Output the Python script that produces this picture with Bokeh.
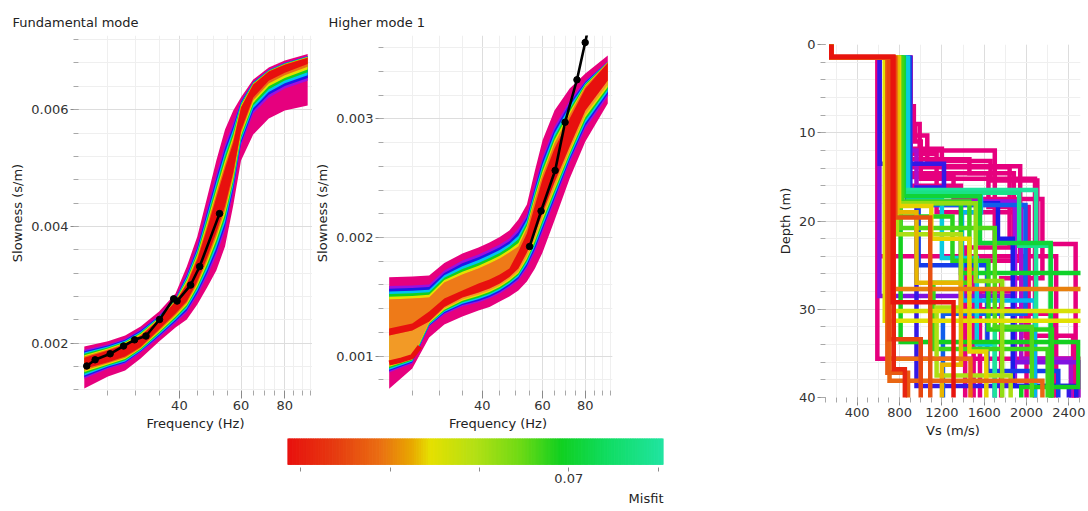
import numpy as np
from bokeh.plotting import figure
from bokeh.layouts import row, column
from bokeh.models import FixedTicker, Range1d, Title, PrintfTickFormatter
from bokeh.embed import file_html
from bokeh.resources import INLINE

FONT = "DejaVu Sans"

# ---------------------------------------------------------------- data
# Frequency samples of the dispersion envelopes (Hz)
FREQ = [21.4, 25, 28, 31, 35, 39, 42, 45, 48, 51, 54, 57, 60, 65, 72, 80, 93]

# Fundamental mode, slowness (s/m): outer envelope, start of the coloured
# fringe and the best-misfit core, upper and lower sides
FM_OUTER_HI = [0.001944, 0.002034, 0.002132, 0.002286, 0.002543, 0.002851, 0.003313, 0.003827, 0.004494,
               0.005128, 0.005659, 0.005984, 0.006212, 0.006515, 0.006720, 0.006840, 0.006955]
FM_FRINGE_HI = [0.001887, 0.001978, 0.002075, 0.002235, 0.002478, 0.002777, 0.003200, 0.003681, 0.004306,
                0.004892, 0.005409, 0.005778, 0.006155, 0.006480, 0.006686, 0.006806, 0.006917]
FM_BEST_HI = [0.001750, 0.001875, 0.001978, 0.002123, 0.002406, 0.002714, 0.003010, 0.003433, 0.003964,
              0.004496, 0.004991, 0.005436, 0.006035, 0.006429, 0.006652, 0.006771, 0.006891]
FM_BEST_LO = [0.001562, 0.001675, 0.001772, 0.001935, 0.002235, 0.002508, 0.002719, 0.003056, 0.003467,
              0.003895, 0.004349, 0.004922, 0.005641, 0.006206, 0.006497, 0.006634, 0.006780]
FM_FRINGE_LO = [0.001391, 0.001562, 0.001647, 0.001841, 0.002099, 0.002348, 0.002529, 0.002817, 0.003142,
                0.003501, 0.003929, 0.004580, 0.005385, 0.005933, 0.006206, 0.006361, 0.006497]
FM_OUTER_LO = [0.001224, 0.001430, 0.001533, 0.001738, 0.002029, 0.002269, 0.002406, 0.002663, 0.002954,
               0.003245, 0.003656, 0.004357, 0.005128, 0.005573, 0.005847, 0.005984, 0.006069]

# Fundamental mode, measured curve
FM_OBS_FREQ = [21.75, 22.98, 25.37, 27.70, 29.79, 32.11, 35.10, 38.52, 39.40, 43.07, 45.71, 52.09]
FM_OBS_SLOW = [0.001610, 0.001716, 0.001819, 0.001952, 0.002058, 0.002123, 0.002406, 0.002760,
               0.002722, 0.002996, 0.003313, 0.004220]

# Higher mode 1, slowness (s/m); this mode also has a wide orange class
HM_OUTER_HI = [0.001666, 0.001672, 0.001680, 0.001785, 0.001865, 0.001916, 0.001958, 0.002004, 0.002059,
               0.002152, 0.002278, 0.002565, 0.002820, 0.003070, 0.003255, 0.003382, 0.003533]
HM_FRINGE_HI = [0.001591, 0.001596, 0.001604, 0.001722, 0.001806, 0.001857, 0.001899, 0.001941, 0.001992,
                0.002076, 0.002194, 0.002447, 0.002678, 0.002935, 0.003154, 0.003323, 0.003483]
HM_ORANGE_HI = [0.001478, 0.001486, 0.001495, 0.001621, 0.001688, 0.001739, 0.001781, 0.001823, 0.001874,
                0.001924, 0.002076, 0.002320, 0.002527, 0.002792, 0.003036, 0.003272, 0.003476]
HM_BEST_HI = [0.001233, 0.001275, 0.001377, 0.001486, 0.001554, 0.001612, 0.001646, 0.001688, 0.001739,
              0.001882, 0.002034, 0.002270, 0.002490, 0.002750, 0.003003, 0.003255, 0.003470]
HM_BEST_LO = [0.001174, 0.001217, 0.001292, 0.001415, 0.001495, 0.001537, 0.001570, 0.001612, 0.001667,
              0.001739, 0.001874, 0.002034, 0.002206, 0.002463, 0.002767, 0.003070, 0.003323]
HM_ORANGE_LO = [0.000922, 0.000981, 0.001284, 0.001402, 0.001478, 0.001520, 0.001554, 0.001596, 0.001650,
                0.001714, 0.001840, 0.001992, 0.002169, 0.002421, 0.002733, 0.003036, 0.003289]
HM_FRINGE_LO = [0.000863, 0.000938, 0.001250, 0.001351, 0.001419, 0.001452, 0.001486, 0.001528, 0.001579,
                0.001638, 0.001739, 0.001882, 0.002046, 0.002303, 0.002632, 0.002918, 0.003188]
HM_OUTER_LO = [0.000725, 0.000896, 0.001158, 0.001267, 0.001334, 0.001385, 0.001415, 0.001461, 0.001503,
               0.001554, 0.001629, 0.001739, 0.001874, 0.002143, 0.002497, 0.002809, 0.003129]

# A second low-misfit branch of higher mode 1 at low frequency
HM_BRANCH_FREQ = [21.4, 23.3, 25.0, 26.3]
HM_BRANCH_SLOW = [0.000943, 0.000968, 0.000997, 0.001082]

# Higher mode 1, measured curve
HM_OBS_FREQ = [55.0, 59.4, 65.3, 69.8, 75.6, 79.9, 84.3]
HM_OBS_SLOW = [0.001924, 0.002223, 0.002565, 0.002971, 0.003329, 0.003643, 0.003955]

# Vs profiles: misfit, layer velocities (m/s) and layer bottoms (m)
PROFILE_MISFIT = [0.140, 0.138, 0.135, 0.132, 0.130, 0.128, 0.127, 0.126, 0.125, 0.124, 0.123, 0.122,
                  0.112, 0.110, 0.108,
                  0.102, 0.100, 0.098, 0.096,
                  0.091, 0.088,
                  0.080, 0.078,
                  0.071, 0.070, 0.069, 0.068, 0.067, 0.066,
                  0.062, 0.060,
                  0.056, 0.055, 0.054, 0.053,
                  0.050, 0.049, 0.048, 0.047, 0.046, 0.045,
                  0.041, 0.039]
PROFILE_VS = [
    [155, 870, 935, 1062, 1660, 2102, 2464],
    [155, 880, 900, 920, 945, 1000, 2080],
    [155, 880, 1460, 1880, 2250],
    [155, 900, 1200, 1940, 1500],
    [155, 860, 1640, 2020, 2500],
    [155, 590, 2450],
    [155, 885, 990, 1700, 2280],
    [155, 875, 1380, 2000],
    [155, 865, 1150, 1890, 1560],
    [155, 600, 1990, 2440],
    [155, 895, 1310, 2150, 1760],
    [155, 905, 1840, 1420],
    [155, 880, 960, 1950, 2420],
    [155, 900, 1890, 1700],
    [155, 610, 1880, 2510],
    [155, 612, 1220, 960, 2400],
    [155, 870, 1730, 1870, 2470],
    [155, 900, 980, 1630, 2300],
    [155, 880, 1990, 1210],
    [155, 860, 1570, 1390, 2080],
    [155, 880, 1200, 1530, 1700],
    [155, 820, 2090, 1700],
    [155, 840, 1930, 2230],
    [155, 840, 1560, 2228],
    [155, 815, 1380, 2600],
    [155, 810, 2490, 1950],
    [155, 800, 1300, 1640, 2240],
    [155, 825, 1460, 1120, 2200],
    [155, 805, 1700, 2050],
    [155, 790, 1520, 1770],
    [155, 775, 1380, 1150, 1850],
    [155, 670, 2600],
    [155, 660, 2600],
    [155, 795, 1100, 1460, 1620],
    [155, 780, 960, 1380, 1200],
    [155, 700, 2600],
    [155, 690, 1470],
    [155, 705, 2150],
    [155, 685, 880],
    [155, 760, 1090],
    [155, 700, 1000],
    [155, 745, 850],
    [155, 735, 1310],
]
PROFILE_BOTTOM = [
    [1.5, 7.0, 10.3, 13.2, 15.4, 22.6],
    [1.5, 5.5, 7.5, 9.5, 11.0, 15.2],
    [1.5, 13.0, 14.6, 30.5],
    [1.5, 11.8, 13.8, 24.5],
    [1.5, 14.6, 18.4, 35.6],
    [1.5, 35.6],
    [1.5, 9.0, 12.0, 24.0],
    [1.5, 16.0, 30.0],
    [1.5, 12.4, 19.0, 28.0],
    [1.5, 24.0, 33.0],
    [1.5, 15.0, 17.5, 26.5],
    [1.5, 13.9, 23.0],
    [1.5, 12.0, 18.2, 35.6],
    [1.5, 17.8, 38.5],
    [1.5, 28.5, 36.0],
    [1.5, 13.5, 16.2, 38.7],
    [1.5, 18.0, 22.0, 38.7],
    [1.5, 17.0, 25.0, 37.0],
    [1.5, 18.2, 30.5],
    [1.5, 16.8, 19.0, 29.0],
    [1.5, 17.4, 24.2, 34.0],
    [1.5, 16.5, 32.0],
    [1.5, 16.8, 22.8],
    [1.5, 17.2, 22.5],
    [1.5, 18.0, 25.9],
    [1.5, 33.7, 38.8],
    [1.5, 19.5, 24.5, 32.3],
    [1.5, 17.8, 27.0, 34.5],
    [1.5, 20.8, 32.0],
    [1.5, 18.0, 26.8],
    [1.5, 21.5, 29.8, 37.5],
    [1.5, 30.2],
    [1.5, 31.3],
    [1.5, 18.3, 22.0, 34.8],
    [1.5, 19.0, 27.0, 36.3],
    [1.5, 27.7],
    [1.5, 35.6],
    [1.5, 38.1],
    [1.5, 37.2],
    [1.5, 19.6],
    [1.5, 33.4],
    [1.4, 36.8],
    [1.4, 29.2],
]

# Misfit colour scale
MISFIT_STOPS = [0.0385, 0.044, 0.049, 0.0525, 0.0545, 0.0595, 0.0645, 0.0692, 0.0742, 0.0805,
                0.090, 0.100, 0.110, 0.120]
MISFIT_COLOURS = ["#e8100e", "#e63c10", "#ea7012", "#e8a800", "#e6e000", "#b4e014", "#70da14",
                  "#10d020", "#10dc60", "#20e4a0", "#00c4f0", "#1a1ae8", "#9b10e0", "#e6007e"]
MISFIT_MIN, MISFIT_MAX = 0.0385, 0.0806

_RGB = np.array([[int(c[i:i + 2], 16) for i in (1, 3, 5)] for c in MISFIT_COLOURS], float)


def misfit_colour(m):
    r, g, b = (np.interp(m, MISFIT_STOPS, _RGB[:, k]) for k in range(3))
    return "#%02x%02x%02x" % (int(round(r)), int(round(g)), int(round(b)))


ORANGE_UPPER = "#ee7a18"
ORANGE_LOWER = "#f29a26"

# ---------------------------------------------------------------- helpers
def style_title(t):
    t.text_font = FONT
    t.text_font_size = "13px"
    t.text_font_style = "normal"
    t.text_color = "#222222"


def style(p):
    p.outline_line_color = None
    p.background_fill_color = "white"
    p.border_fill_color = "white"
    for ax in p.axis:
        ax.axis_line_color = None
        ax.major_tick_line_color = "#8a8a8a"
        ax.minor_tick_line_color = "#a8a8a8"
        ax.major_tick_in = 0
        ax.minor_tick_in = 0
        ax.major_tick_out = 8
        ax.minor_tick_out = 5
        ax.major_label_text_font = FONT
        ax.major_label_text_font_size = "13px"
        ax.major_label_text_color = "#333333"
        ax.major_label_standoff = 2
        ax.axis_label_text_font = FONT
        ax.axis_label_text_font_size = "13px"
        ax.axis_label_text_font_style = "normal"
        ax.axis_label_text_color = "#222222"
        ax.axis_label_standoff = 3
    for g in p.grid:
        g.grid_line_color = "#dddddd"
        g.minor_grid_line_color = "#efefef"
    if p.title is not None:
        style_title(p.title)
        p.title.align = "left"
        p.title.standoff = 11


def draw_band(p, outer, fringe, core, orange=None):
    x = FREQ
    o_hi, o_lo = np.array(outer[0]), np.array(outer[1])
    f_hi, f_lo = np.array(fringe[0]), np.array(fringe[1])
    c_hi, c_lo = np.array(core[0]), np.array(core[1])
    p.varea(x=x, y1=o_lo, y2=o_hi, fill_color=misfit_colour(0.125))
    ring = [0.110, 0.100, 0.090, 0.0692, 0.0545]
    if orange is None:
        ring.append(0.049)
        in_hi, in_lo = c_hi, c_lo
    else:
        in_hi, in_lo = np.array(orange[0]), np.array(orange[1])
    n = len(ring)
    for i, m in enumerate(ring):
        t = i / n
        p.varea(x=x, y1=f_lo + (in_lo - f_lo) * t, y2=f_hi + (in_hi - f_hi) * t,
                fill_color=misfit_colour(m))
    if orange is not None:
        p.varea(x=x, y1=in_lo, y2=in_hi, fill_color=ORANGE_LOWER)
        p.varea(x=x, y1=c_lo, y2=in_hi, fill_color=ORANGE_UPPER)
    p.varea(x=x, y1=c_lo, y2=c_hi, fill_color=misfit_colour(0.0385))


def freq_ticker():
    return FixedTicker(ticks=[40, 60, 80], minor_ticks=[25, 30, 35, 45, 50, 55, 65, 70, 75, 85, 90, 95])


def dispersion_figure(title, width, left, right, y_range, y_major, y_minor):
    p = figure(width=width, height=437, x_axis_type="log", x_range=Range1d(20.6, 96),
               y_range=Range1d(*y_range), title=title, output_backend="svg", toolbar_location=None,
               min_border_left=left, min_border_right=right, min_border_top=35, min_border_bottom=47)
    p.xaxis.ticker = freq_ticker()
    p.xaxis.formatter = PrintfTickFormatter(format="%d")
    p.yaxis.ticker = FixedTicker(ticks=y_major, minor_ticks=y_minor)
    p.yaxis.formatter = PrintfTickFormatter(format="%.3f")
    p.xaxis.axis_label = "Frequency (Hz)"
    p.yaxis.axis_label = "Slowness (s/m)"
    style(p)
    p.title.offset = -(left - 12)
    return p


# ---------------------------------------------------------------- fundamental mode
p1 = dispersion_figure("Fundamental mode", 312, 78, 0, (0.00119, 0.00727),
                       [0.002, 0.004, 0.006],
                       [round(v, 5) for v in np.arange(0.0012, 0.00721, 0.0004)])
draw_band(p1, (FM_OUTER_HI, FM_OUTER_LO), (FM_FRINGE_HI, FM_FRINGE_LO), (FM_BEST_HI, FM_BEST_LO))
p1.line(FM_OBS_FREQ, FM_OBS_SLOW, line_color="black", line_width=2.6)
p1.scatter(FM_OBS_FREQ, FM_OBS_SLOW, marker="circle", size=6.5, color="black")

# ---------------------------------------------------------------- higher mode 1
p2 = dispersion_figure("Higher mode 1", 458, 67, 158, (0.000711, 0.003702),
                       [0.001, 0.002, 0.003],
                       [round(v, 5) for v in np.arange(0.0008, 0.00361, 0.0002)])
draw_band(p2, (HM_OUTER_HI, HM_OUTER_LO), (HM_FRINGE_HI, HM_FRINGE_LO), (HM_BEST_HI, HM_BEST_LO),
          orange=(HM_ORANGE_HI, HM_ORANGE_LO))
p2.line(HM_BRANCH_FREQ, HM_BRANCH_SLOW, line_color=misfit_colour(0.0385), line_width=5)
p2.line(HM_OBS_FREQ, HM_OBS_SLOW, line_color="black", line_width=2.6)
p2.scatter(HM_OBS_FREQ, HM_OBS_SLOW, marker="circle", size=6.5, color="black")

# ---------------------------------------------------------------- misfit scale
cb = figure(width=770, height=74, x_range=Range1d(MISFIT_MIN, MISFIT_MAX), y_range=Range1d(-0.12, 1),
            y_axis_location=None, output_backend="svg", toolbar_location=None,
            min_border_left=287, min_border_right=107, min_border_top=1, min_border_bottom=44)
edges = np.linspace(MISFIT_MIN, MISFIT_MAX, 161)
mids = 0.5 * (edges[:-1] + edges[1:])
cols = [misfit_colour(m) for m in mids]
cb.quad(left=edges[:-1], right=edges[1:], bottom=0, top=1, fill_color=cols, line_color=cols)
cb.xaxis.ticker = FixedTicker(ticks=[0.07], minor_ticks=[0.04, 0.05, 0.06, 0.08])
cb.xaxis.formatter = PrintfTickFormatter(format="%.2f")
style(cb)
cb.grid.visible = False
cb.xaxis.major_tick_out = 4
cb.xaxis.minor_tick_out = 4
cb.xaxis.major_tick_line_color = "#8a8a8a"
cb.xaxis.minor_tick_line_color = "#8a8a8a"
misfit_title = Title(text="Misfit", align="right", standoff=7)
style_title(misfit_title)
cb.add_layout(misfit_title, "below")

# ---------------------------------------------------------------- Vs profiles
p3 = figure(width=318, height=511, x_range=Range1d(100, 2510), y_range=Range1d(40, 0),
            output_backend="svg", toolbar_location=None,
            min_border_left=55, min_border_right=8, min_border_top=44, min_border_bottom=114)
p3.xaxis.ticker = FixedTicker(ticks=[400, 800, 1200, 1600, 2000, 2400],
                              minor_ticks=list(range(100, 2501, 100)))
p3.yaxis.ticker = FixedTicker(ticks=[0, 10, 20, 30, 40], minor_ticks=list(range(0, 41, 2)))
p3.xaxis.axis_label = "Vs (m/s)"
p3.yaxis.axis_label = "Depth (m)"
style(p3)
p3.xgrid.ticker = FixedTicker(ticks=[400, 800, 1200, 1600, 2000, 2400],
                              minor_ticks=list(range(200, 2501, 200)))

xs, ys, lc = [], [], []
for k in np.argsort(PROFILE_MISFIT)[::-1]:
    vs, bottoms = PROFILE_VS[k], PROFILE_BOTTOM[k] + [41]
    px, py, top = [], [], 0.0
    for v, b in zip(vs, bottoms):
        px += [v, v]
        py += [top, b]
        top = b
    xs.append(px)
    ys.append(py)
    lc.append(misfit_colour(PROFILE_MISFIT[k]))
p3.multi_line(xs, ys, line_color=lc, line_width=4.5, line_join="miter")

layout = row(column(row(p1, p2), cb), p3)
open("out.html", "w").write(file_html(layout, INLINE))
